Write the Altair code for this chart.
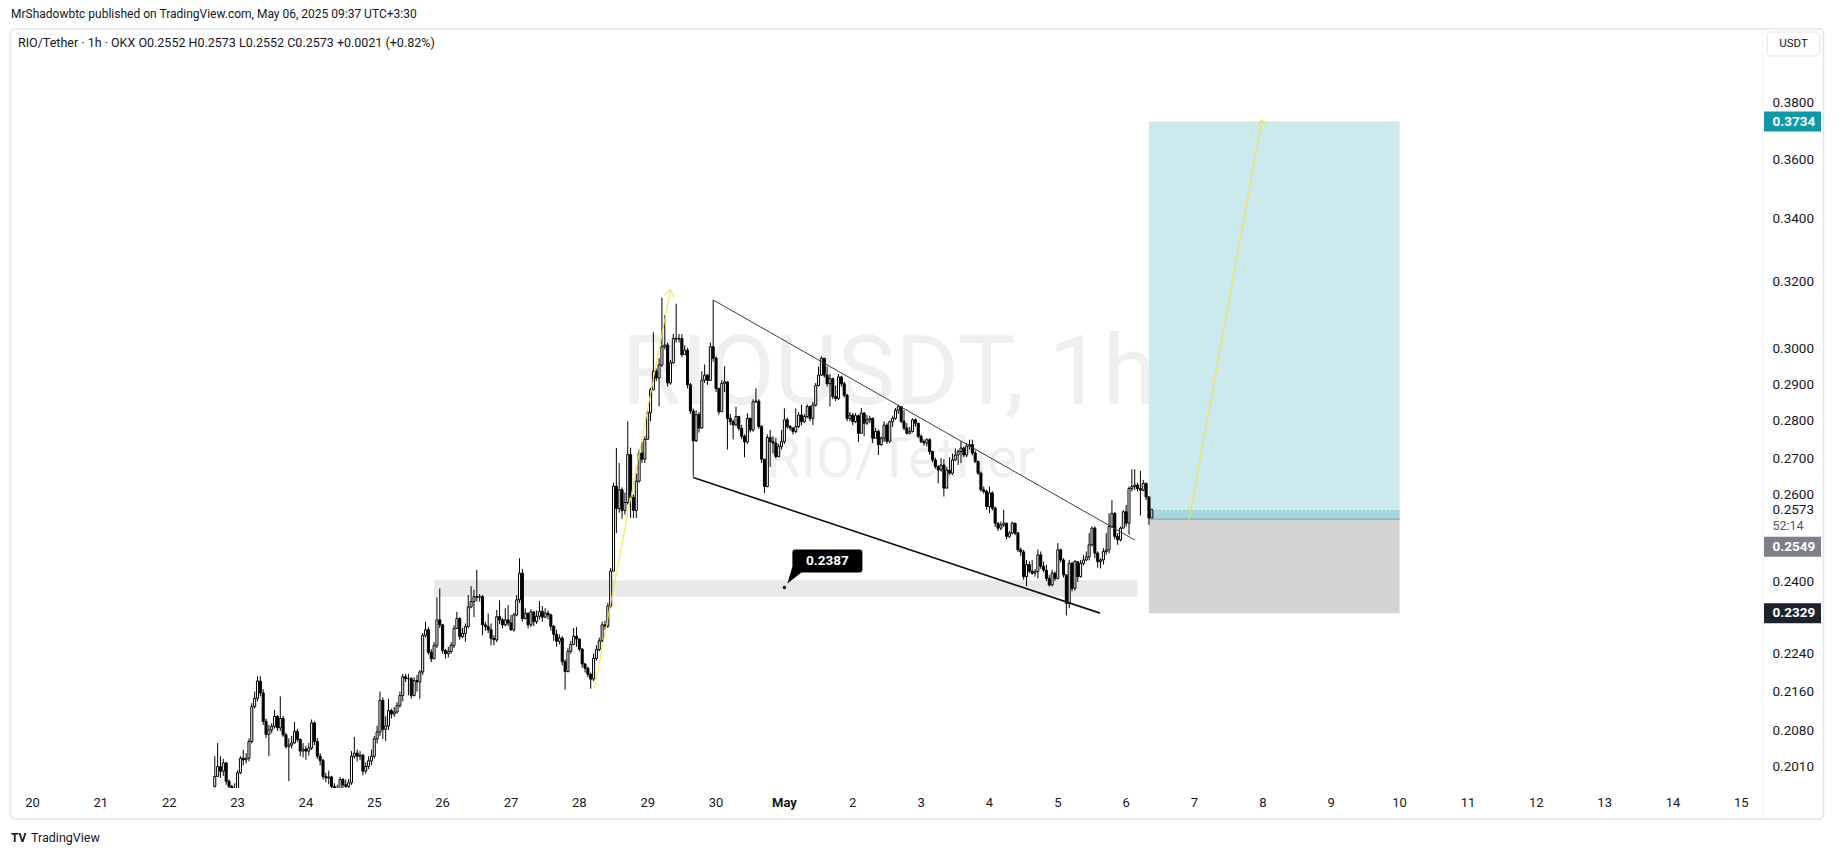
import altair as alt
import pandas as pd

FONT = "Roboto, 'Liberation Sans', sans-serif"
INK = "#131722"

# ---------------- data (hourly candles, hour index counted from Apr 20 00:00) -------------
FIRST_HOUR = 64
FIRST_OPEN = 0.1972
close = [
    0.1991, 0.2010, 0.2001, 0.2017, 0.1982, 0.1972, 0.1962, 0.1968, 0.1998, 0.2026,
    0.2023, 0.2026, 0.2059, 0.2129, 0.2146, 0.2182, 0.2157, 0.2099, 0.2073, 0.2082,
    0.2089, 0.2109, 0.2086, 0.2105, 0.2072, 0.2049, 0.2052, 0.2056, 0.2079, 0.2063,
    0.2040, 0.2044, 0.2040, 0.2046, 0.2096, 0.2059, 0.2030, 0.2022, 0.1991, 0.1988,
    0.1990, 0.1972, 0.1966, 0.1963, 0.1985, 0.1975, 0.1972, 0.1979, 0.2030, 0.2036,
    0.2030, 0.2032, 0.2001, 0.2010, 0.2021, 0.2030, 0.2064, 0.2078, 0.2142, 0.2083,
    0.2090, 0.2121, 0.2114, 0.2118, 0.2131, 0.2152, 0.2191, 0.2187, 0.2187, 0.2152,
    0.2183, 0.2180, 0.2201, 0.2280, 0.2292, 0.2243, 0.2229, 0.2258, 0.2314, 0.2303,
    0.2247, 0.2240, 0.2245, 0.2258, 0.2295, 0.2317, 0.2277, 0.2284, 0.2299, 0.2343,
    0.2355, 0.2366, 0.2365, 0.2366, 0.2303, 0.2299, 0.2292, 0.2273, 0.2270, 0.2321,
    0.2314, 0.2303, 0.2314, 0.2307, 0.2292, 0.2325, 0.2359, 0.2420, 0.2317, 0.2329,
    0.2303, 0.2332, 0.2310, 0.2322, 0.2333, 0.2320, 0.2329, 0.2325, 0.2300, 0.2282,
    0.2267, 0.2274, 0.2223, 0.2202, 0.2245, 0.2260, 0.2278, 0.2272, 0.2250, 0.2218,
    0.2209, 0.2196, 0.2186, 0.2230, 0.2249, 0.2268, 0.2303, 0.2300, 0.2345, 0.2425,
    0.2631, 0.2575, 0.2622, 0.2570, 0.2590, 0.2712, 0.2603, 0.2570, 0.2644, 0.2716,
    0.2700, 0.2752, 0.2823, 0.2886, 0.2938, 0.2919, 0.2956, 0.3008, 0.3013, 0.2905,
    0.2962, 0.3032, 0.3030, 0.3032, 0.2985, 0.2998, 0.2900, 0.2828, 0.2748, 0.2818,
    0.2782, 0.2913, 0.2927, 0.2912, 0.3008, 0.2975, 0.2890, 0.2826, 0.2904, 0.2908,
    0.2808, 0.2799, 0.2790, 0.2813, 0.2781, 0.2760, 0.2745, 0.2808, 0.2777, 0.2853,
    0.2855, 0.2786, 0.2700, 0.2630, 0.2757, 0.2746, 0.2742, 0.2707, 0.2733, 0.2746,
    0.2804, 0.2786, 0.2782, 0.2773, 0.2786, 0.2817, 0.2799, 0.2813, 0.2840, 0.2808,
    0.2844, 0.2898, 0.2927, 0.2975, 0.2927, 0.2903, 0.2917, 0.2867, 0.2862, 0.2922,
    0.2903, 0.2871, 0.2808, 0.2817, 0.2799, 0.2815, 0.2768, 0.2822, 0.2795, 0.2804,
    0.2808, 0.2755, 0.2773, 0.2738, 0.2755, 0.2790, 0.2747, 0.2799, 0.2808, 0.2830,
    0.2840, 0.2800, 0.2782, 0.2768, 0.2773, 0.2804, 0.2795, 0.2760, 0.2746, 0.2742,
    0.2751, 0.2720, 0.2698, 0.2681, 0.2672, 0.2685, 0.2626, 0.2672, 0.2664, 0.2698,
    0.2711, 0.2720, 0.2729, 0.2711, 0.2734, 0.2738, 0.2716, 0.2694, 0.2664, 0.2622,
    0.2618, 0.2580, 0.2614, 0.2576, 0.2539, 0.2527, 0.2535, 0.2539, 0.2507, 0.2515,
    0.2539, 0.2515, 0.2475, 0.2470, 0.2412, 0.2440, 0.2425, 0.2420, 0.2424, 0.2463,
    0.2436, 0.2427, 0.2408, 0.2393, 0.2420, 0.2408, 0.2475, 0.2451, 0.2416, 0.2351,
    0.2443, 0.2385, 0.2447, 0.2412, 0.2443, 0.2451, 0.2458, 0.2487, 0.2527, 0.2467,
    0.2447, 0.2451, 0.2471, 0.2475, 0.2531, 0.2563, 0.2507, 0.2499, 0.2527, 0.2567,
    0.2539, 0.2625, 0.2630, 0.2634, 0.2625, 0.2621, 0.2638, 0.2604, 0.2552, 0.2573,
]
high = [
    0.2030, 0.2056, 0.2030, 0.2025, 0.2019, 0.1985, 0.1975, 0.1978, 0.2003, 0.2030,
    0.2043, 0.2036, 0.2065, 0.2136, 0.2160, 0.2192, 0.2192, 0.2165, 0.2105, 0.2092,
    0.2095, 0.2122, 0.2112, 0.2150, 0.2110, 0.2076, 0.2065, 0.2070, 0.2098, 0.2084,
    0.2065, 0.2056, 0.2050, 0.2056, 0.2103, 0.2099, 0.2066, 0.2036, 0.2025, 0.1998,
    0.2002, 0.1992, 0.1978, 0.1975, 0.1990, 0.1988, 0.1985, 0.1986, 0.2040, 0.2068,
    0.2043, 0.2040, 0.2035, 0.2018, 0.2030, 0.2043, 0.2070, 0.2090, 0.2160, 0.2148,
    0.2110, 0.2145, 0.2125, 0.2128, 0.2138, 0.2160, 0.2197, 0.2197, 0.2197, 0.2190,
    0.2190, 0.2195, 0.2205, 0.2285, 0.2310, 0.2298, 0.2250, 0.2265, 0.2365, 0.2385,
    0.2305, 0.2250, 0.2255, 0.2265, 0.2302, 0.2332, 0.2320, 0.2296, 0.2306, 0.2370,
    0.2390, 0.2382, 0.2428, 0.2372, 0.2370, 0.2310, 0.2328, 0.2306, 0.2280, 0.2336,
    0.2358, 0.2318, 0.2340, 0.2347, 0.2325, 0.2330, 0.2370, 0.2455, 0.2430, 0.2340,
    0.2328, 0.2338, 0.2330, 0.2335, 0.2356, 0.2345, 0.2340, 0.2335, 0.2328, 0.2302,
    0.2292, 0.2282, 0.2278, 0.2228, 0.2252, 0.2268, 0.2296, 0.2298, 0.2265, 0.2252,
    0.2220, 0.2212, 0.2200, 0.2240, 0.2258, 0.2275, 0.2310, 0.2312, 0.2352, 0.2432,
    0.2640, 0.2729, 0.2690, 0.2628, 0.2615, 0.2800, 0.2730, 0.2610, 0.2663, 0.2725,
    0.2745, 0.2760, 0.2830, 0.2891, 0.3050, 0.2945, 0.2975, 0.3153, 0.3100, 0.3020,
    0.2970, 0.3045, 0.3135, 0.3045, 0.3045, 0.3012, 0.3005, 0.2905, 0.2835, 0.2830,
    0.2825, 0.2938, 0.2957, 0.2930, 0.3020, 0.3146, 0.2980, 0.2885, 0.2913, 0.2952,
    0.2910, 0.2820, 0.2805, 0.2840, 0.2815, 0.2790, 0.2765, 0.2822, 0.2810, 0.2860,
    0.2890, 0.2860, 0.2790, 0.2700, 0.2765, 0.2777, 0.2760, 0.2755, 0.2740, 0.2777,
    0.2835, 0.2810, 0.2790, 0.2784, 0.2835, 0.2825, 0.2845, 0.2820, 0.2846, 0.2843,
    0.2853, 0.2905, 0.2951, 0.2980, 0.2970, 0.2951, 0.2930, 0.2920, 0.2898, 0.2930,
    0.2925, 0.2908, 0.2875, 0.2825, 0.2822, 0.2822, 0.2818, 0.2836, 0.2825, 0.2817,
    0.2815, 0.2810, 0.2782, 0.2778, 0.2760, 0.2800, 0.2795, 0.2802, 0.2815, 0.2836,
    0.2845, 0.2840, 0.2830, 0.2795, 0.2785, 0.2808, 0.2808, 0.2795, 0.2765, 0.2752,
    0.2755, 0.2755, 0.2722, 0.2704, 0.2685, 0.2703, 0.2700, 0.2680, 0.2705, 0.2715,
    0.2728, 0.2725, 0.2747, 0.2733, 0.2742, 0.2751, 0.2751, 0.2722, 0.2696, 0.2668,
    0.2630, 0.2622, 0.2630, 0.2618, 0.2580, 0.2541, 0.2543, 0.2572, 0.2540, 0.2520,
    0.2543, 0.2540, 0.2518, 0.2480, 0.2475, 0.2451, 0.2448, 0.2451, 0.2430, 0.2476,
    0.2471, 0.2447, 0.2440, 0.2416, 0.2428, 0.2424, 0.2491, 0.2478, 0.2455, 0.2418,
    0.2451, 0.2447, 0.2451, 0.2440, 0.2451, 0.2463, 0.2471, 0.2515, 0.2531, 0.2531,
    0.2471, 0.2455, 0.2479, 0.2515, 0.2563, 0.2596, 0.2567, 0.2515, 0.2531, 0.2571,
    0.2584, 0.2630, 0.2674, 0.2674, 0.2640, 0.2670, 0.2647, 0.2640, 0.2604, 0.2573,
]
low = [
    0.1970, 0.1995, 0.1988, 0.1992, 0.1975, 0.1965, 0.1950, 0.1955, 0.1962, 0.1995,
    0.2012, 0.2016, 0.2020, 0.2055, 0.2125, 0.2140, 0.2150, 0.2092, 0.2066, 0.2030,
    0.2075, 0.2085, 0.2080, 0.2080, 0.2068, 0.2045, 0.1982, 0.2045, 0.2055, 0.2058,
    0.2030, 0.2028, 0.2023, 0.2031, 0.2042, 0.2052, 0.2025, 0.2012, 0.1985, 0.1980,
    0.1976, 0.1960, 0.1950, 0.1950, 0.1960, 0.1962, 0.1960, 0.1965, 0.1975, 0.2025,
    0.2020, 0.2022, 0.1993, 0.1996, 0.2005, 0.2013, 0.2025, 0.2055, 0.2070, 0.2064,
    0.2060, 0.2082, 0.2105, 0.2108, 0.2115, 0.2127, 0.2140, 0.2180, 0.2152, 0.2145,
    0.2150, 0.2160, 0.2145, 0.2195, 0.2275, 0.2238, 0.2222, 0.2232, 0.2252, 0.2296,
    0.2240, 0.2230, 0.2232, 0.2240, 0.2252, 0.2295, 0.2270, 0.2274, 0.2266, 0.2295,
    0.2340, 0.2320, 0.2355, 0.2355, 0.2280, 0.2290, 0.2285, 0.2258, 0.2258, 0.2265,
    0.2305, 0.2296, 0.2300, 0.2300, 0.2290, 0.2288, 0.2322, 0.2352, 0.2310, 0.2315,
    0.2295, 0.2298, 0.2300, 0.2305, 0.2315, 0.2310, 0.2318, 0.2315, 0.2290, 0.2268,
    0.2255, 0.2260, 0.2215, 0.2164, 0.2200, 0.2240, 0.2262, 0.2255, 0.2245, 0.2210,
    0.2200, 0.2190, 0.2166, 0.2182, 0.2225, 0.2245, 0.2265, 0.2292, 0.2296, 0.2340,
    0.2428, 0.2515, 0.2565, 0.2550, 0.2560, 0.2585, 0.2552, 0.2552, 0.2552, 0.2640,
    0.2690, 0.2690, 0.2752, 0.2800, 0.2886, 0.2910, 0.2840, 0.2950, 0.3000, 0.2895,
    0.2900, 0.2960, 0.3020, 0.3020, 0.2978, 0.2985, 0.2890, 0.2820, 0.2655, 0.2745,
    0.2770, 0.2780, 0.2905, 0.2900, 0.2912, 0.2965, 0.2880, 0.2818, 0.2830, 0.2880,
    0.2725, 0.2790, 0.2752, 0.2788, 0.2775, 0.2752, 0.2705, 0.2740, 0.2770, 0.2772,
    0.2850, 0.2780, 0.2690, 0.2614, 0.2628, 0.2680, 0.2715, 0.2702, 0.2705, 0.2725,
    0.2740, 0.2780, 0.2775, 0.2765, 0.2768, 0.2782, 0.2790, 0.2795, 0.2808, 0.2800,
    0.2790, 0.2840, 0.2895, 0.2925, 0.2920, 0.2895, 0.2840, 0.2860, 0.2855, 0.2858,
    0.2895, 0.2865, 0.2800, 0.2800, 0.2790, 0.2795, 0.2745, 0.2768, 0.2760, 0.2790,
    0.2795, 0.2742, 0.2758, 0.2711, 0.2735, 0.2745, 0.2740, 0.2742, 0.2785, 0.2804,
    0.2820, 0.2795, 0.2776, 0.2765, 0.2765, 0.2770, 0.2786, 0.2755, 0.2742, 0.2735,
    0.2733, 0.2712, 0.2692, 0.2675, 0.2638, 0.2668, 0.2605, 0.2630, 0.2660, 0.2660,
    0.2695, 0.2685, 0.2690, 0.2705, 0.2705, 0.2725, 0.2710, 0.2690, 0.2660, 0.2617,
    0.2612, 0.2572, 0.2564, 0.2570, 0.2530, 0.2520, 0.2522, 0.2530, 0.2500, 0.2503,
    0.2512, 0.2510, 0.2470, 0.2460, 0.2405, 0.2390, 0.2420, 0.2416, 0.2412, 0.2408,
    0.2430, 0.2422, 0.2402, 0.2389, 0.2390, 0.2402, 0.2405, 0.2445, 0.2410, 0.2324,
    0.2340, 0.2378, 0.2380, 0.2400, 0.2410, 0.2438, 0.2448, 0.2450, 0.2483, 0.2455,
    0.2433, 0.2431, 0.2440, 0.2463, 0.2467, 0.2527, 0.2500, 0.2487, 0.2495, 0.2531,
    0.2531, 0.2511, 0.2618, 0.2621, 0.2618, 0.2558, 0.2618, 0.2596, 0.2535, 0.2552,
]

day_hours = list(range(0, 601, 24))          # Apr 20 ... May 15 at 00:00
day_labels = ["20", "21", "22", "23", "24", "25", "26", "27", "28", "29", "30", "May",
              "2", "3", "4", "5", "6", "7", "8", "9", "10", "11", "12", "13", "14", "15"]
price_ticks = [0.3800, 0.3600, 0.3400, 0.3200, 0.3000, 0.2900, 0.2800, 0.2700,
               0.2400, 0.2240, 0.2160, 0.2080, 0.2010]
crowded_tick = [0.2600]      # sits right above the last-price label

# drawings (hour, price)
wedge_t1 = [239, 232];     wedge_p1 = [0.3146, 0.2653]
wedge_t2 = [387.1, 374.8]; wedge_p2 = [0.2498, 0.2329]
arrow_t1 = [197.3, 406.0]; arrow_p1 = [0.2166, 0.2545]
arrow_t2 = [224.0, 431.7]; arrow_p2 = [0.3178, 0.3740]
arrow_angle = [10.8, 10.3]
zone_t1 = [141, 392, 392, 392]
zone_t2 = [388, 480, 480, 480]
zone_p1 = [0.2366, 0.2549, 0.2549, 0.2329]
zone_p2 = [0.2404, 0.3734, 0.2573, 0.2549]
zone_col = ["#e9e9eb", "#cce9ee", "#a3d8df", "#d4d4d7"]
ENTRY, TARGET, STOP, LAST = 0.2549, 0.3734, 0.2329, 0.2573
NOTE_T, NOTE_P = 264, 0.2387

# ---------------- frames ----------------
opens = [FIRST_OPEN] + close[:-1]
hours = list(range(FIRST_HOUR, FIRST_HOUR + len(close)))
df = pd.DataFrame({"t": hours, "o": opens, "h": high, "l": low, "c": close})
df["h"] = df[["h", "o", "c"]].max(axis=1)
df["l"] = df[["l", "o", "c"]].min(axis=1)
df["t0"] = df["t"] - 0.36
df["t1"] = df["t"] + 0.36

W, H = 1752, 759
X = alt.Scale(domain=[-7.55, 607.6], nice=False, zero=False)
Y = alt.Scale(type="log", domain=[0.1969, 0.4081], nice=False)
one = pd.DataFrame({"k": [0]})


def xq(f):
    return alt.X(f, scale=X, axis=None)


def yq(f):
    return alt.Y(f, scale=Y, axis=None)


def ptext(txt, x, y, **kw):
    return alt.Chart(one).mark_text(**kw).encode(x=alt.value(x), y=alt.value(y), text=alt.value(txt))


def prect(x, x2, y, y2, **kw):
    return alt.Chart(one).mark_rect(**kw).encode(x=alt.value(x), x2=alt.value(x2),
                                                   y=alt.value(y), y2=alt.value(y2))


frame = prect(-0.5, 1812.5, 0, 790, fill="transparent", stroke="#e3e5ea", strokeWidth=1.5,
              cornerRadius=4)
separator = alt.Chart(one).mark_rule(color="#eef0f3", strokeWidth=1).encode(
    x=alt.value(W), y=alt.value(0), y2=alt.value(790))

watermark = alt.layer(
    ptext("RIOUSDT, 1h", 878, 375, fontSize=97, color="#efefef", align="center",
          baseline="alphabetic"),
    ptext("RIO/Tether", 890, 448, fontSize=56, color="#efefef", align="center",
          baseline="alphabetic"),
)

# time scale labels
days_df = pd.DataFrame({"t": day_hours, "lab": day_labels})
x_labels = alt.Chart(days_df).transform_filter("datum.lab != 'May'").mark_text(
    fontSize=13, color=INK, baseline="middle", align="center").encode(
    x=xq("t:Q"), y=alt.value(H + 15), text="lab:N")
x_may = alt.Chart(days_df).transform_filter("datum.lab == 'May'").mark_text(
    fontSize=13, fontWeight="bold", color=INK, baseline="middle", align="center").encode(
    x=xq("t:Q"), y=alt.value(H + 15), text="lab:N")

# price scale labels
y_labels = alt.Chart(pd.DataFrame({"p": price_ticks})).mark_text(
    fontSize=13.5, color=INK, align="left", baseline="middle").encode(
    x=alt.value(1761.5), y=yq("p:Q"), text=alt.Text("p:Q", format=".4f"))
y_crowded = alt.Chart(pd.DataFrame({"p": crowded_tick})).mark_text(
    fontSize=13.5, color=INK, align="left", baseline="middle", dy=-3.5).encode(
    x=alt.value(1761.5), y=yq("p:Q"), text=alt.Text("p:Q", format=".4f"))

zones = alt.Chart(pd.DataFrame({"t": zone_t1, "t2": zone_t2, "p": zone_p1, "p2": zone_p2,
                                "col": zone_col})).mark_rect(clip=True).encode(
    x=xq("t:Q"), x2="t2:Q", y=yq("p:Q"), y2="p2:Q", fill=alt.Color("col:N", scale=None))

entry_line = alt.Chart(pd.DataFrame({"t": [392], "t2": [480], "p": [ENTRY]})).mark_rule(
    color="#8d909a", strokeWidth=1).encode(x=xq("t:Q"), x2="t2:Q", y=yq("p:Q"))
last_line = alt.Chart(pd.DataFrame({"t": [392], "t2": [480], "p": [LAST]})).mark_rule(
    color="#ffffff", strokeWidth=1, strokeDash=[2, 2]).encode(x=xq("t:Q"), x2="t2:Q", y=yq("p:Q"))

wicks = alt.Chart(df).mark_rule(color="#000000", strokeWidth=1, clip=True).encode(
    x=xq("t:Q"), y=yq("l:Q"), y2="h:Q")
bodies = alt.Chart(df).mark_bar(stroke="#000000", strokeWidth=1, clip=True).encode(
    x=xq("t0:Q"), x2="t1:Q", y=yq("o:Q"), y2="c:Q",
    fill=alt.condition("datum.c >= datum.o", alt.value("#ffffff"), alt.value("#000000")))

wedge_df = pd.DataFrame({"t": wedge_t1, "p": wedge_p1, "t2": wedge_t2, "p2": wedge_p2,
                         "w": [1.0, 1.6], "col": ["#3a3d45", "#111111"]})
wedge = alt.Chart(wedge_df).mark_rule(clip=True).encode(
    x=xq("t:Q"), x2="t2:Q", y=yq("p:Q"), y2="p2:Q",
    strokeWidth=alt.StrokeWidth("w:Q", scale=None), color=alt.Color("col:N", scale=None))

arrow_df = pd.DataFrame({"t": arrow_t1, "p": arrow_p1, "t2": arrow_t2, "p2": arrow_p2,
                         "ang": arrow_angle})
arrows = alt.Chart(arrow_df).mark_rule(color="#f7e535", strokeWidth=1).encode(
    x=xq("t:Q"), x2="t2:Q", y=yq("p:Q"), y2="p2:Q")
heads = alt.Chart(arrow_df).mark_point(shape="M -5 7 L 0 0 L 5 7", size=4, filled=False,
                                        stroke="#f7e535", strokeWidth=1, opacity=1).encode(
    x=xq("t2:Q"), y=yq("p2:Q"), angle=alt.Angle("ang:Q", scale=None))

note_df = pd.DataFrame({"t": [NOTE_T], "p": [NOTE_P], "lab": [f"{NOTE_P:.4f}"]})
note_box = alt.Chart(note_df).mark_point(
    shape="M 11 -38 L 75 -38 Q 78 -38 78 -35 L 78 -18 Q 78 -15 75 -15 L 17 -15 L 3 -4 "
          "L 8 -21 L 8 -35 Q 8 -38 11 -38 Z",
    size=4, filled=True, fill="#000000", strokeWidth=0, opacity=1).encode(
    x=xq("t:Q"), y=yq("p:Q"))
note_dot = alt.Chart(note_df).mark_point(shape="circle", size=12, filled=True, fill="#000000",
                                          strokeWidth=0, opacity=1).encode(x=xq("t:Q"), y=yq("p:Q"))
note_txt = alt.Chart(note_df).mark_text(color="#ffffff", fontWeight="bold", fontSize=13.5,
                                        align="center", baseline="middle", dx=43, dy=-26.5).encode(
    x=xq("t:Q"), y=yq("p:Q"), text="lab:N")

# price scale tags
tag_df = pd.DataFrame({"p": [TARGET, ENTRY, STOP],
                       "lab": [f"{TARGET:.4f}", f"{ENTRY:.4f}", f"{STOP:.4f}"],
                       "col": ["#0f98a5", "#7d808b", "#1e222d"], "off": [0, 27.5, 0]})
tag_boxes = alt.layer(*[
    alt.Chart(tag_df.iloc[[i]]).mark_point(
        shape=f"M 0 {tag_df.off[i]-10} H 57 V {tag_df.off[i]+10} H 0 Z", size=4, filled=True,
        fill=tag_df.col[i], strokeWidth=0, opacity=1).encode(x=alt.value(1753), y=yq("p:Q"))
    for i in range(3)])
tag_texts = alt.layer(*[
    alt.Chart(tag_df.iloc[[i]]).mark_text(color="#ffffff", fontWeight="bold", fontSize=13.5,
                                          align="left", baseline="middle", dy=tag_df.off[i]).encode(
        x=alt.value(1761.5), y=yq("p:Q"), text="lab:N")
    for i in range(3)])
last_df = pd.DataFrame({"p": [LAST], "lab": [f"{LAST:.4f}"], "cd": ["52:14"]})
last_cover = prect(1753, 1810, 470.5, 505, fill="#ffffff")
last_txt = alt.Chart(last_df).mark_text(color=INK, fontSize=13.5, align="left",
                                        baseline="middle", dy=1).encode(
    x=alt.value(1761.5), y=yq("p:Q"), text="lab:N")
last_cd = alt.Chart(last_df).mark_text(color="#50535e", fontSize=12.5, align="left",
                                       baseline="middle", dy=17).encode(
    x=alt.value(1761.5), y=yq("p:Q"), text="cd:N")

usdt_box = prect(1756, 1809, 3, 27, fill="#ffffff", stroke="#e0e3eb", strokeWidth=1, cornerRadius=4)
usdt_txt = ptext("USDT", 1782.5, 15, fontSize=11.5, color=INK, align="center", baseline="middle")

header1 = ptext("MrShadowbtc published on TradingView.com, May 06, 2025 09:37 UTC+3:30", 0, -15,
                fontSize=12, color=INK, align="left", baseline="middle")
header2 = ptext("RIO/Tether \u00b7 1h \u00b7 OKX  O0.2552  H0.2573  L0.2552  C0.2573  +0.0021 (+0.82%)",
                7, 14, fontSize=12.5, color=INK, align="left", baseline="middle")
logo_icon = ptext("TV", 0, 809, fontSize=12, fontWeight="bold", color=INK, align="left",
                  baseline="middle")
logo_txt = ptext("TradingView", 20, 809, fontSize=12.5, color=INK, align="left", baseline="middle")

chart = alt.layer(
    frame, separator, watermark, zones, entry_line, last_line, wicks, bodies, wedge, arrows, heads,
    note_box, note_dot, note_txt, x_labels, x_may, y_labels, y_crowded, tag_boxes, last_cover,
    tag_texts, last_txt, last_cd, usdt_box, usdt_txt, header1, header2, logo_icon, logo_txt,
).properties(
    width=W, height=H,
    padding={"left": 3, "top": 21, "right": 64, "bottom": 60},
    autosize=alt.AutoSizeParams(type="none"),
).configure(font=FONT).configure_view(strokeWidth=0)

chart.save("out.html", embed_options={"renderer": "svg", "actions": False})
